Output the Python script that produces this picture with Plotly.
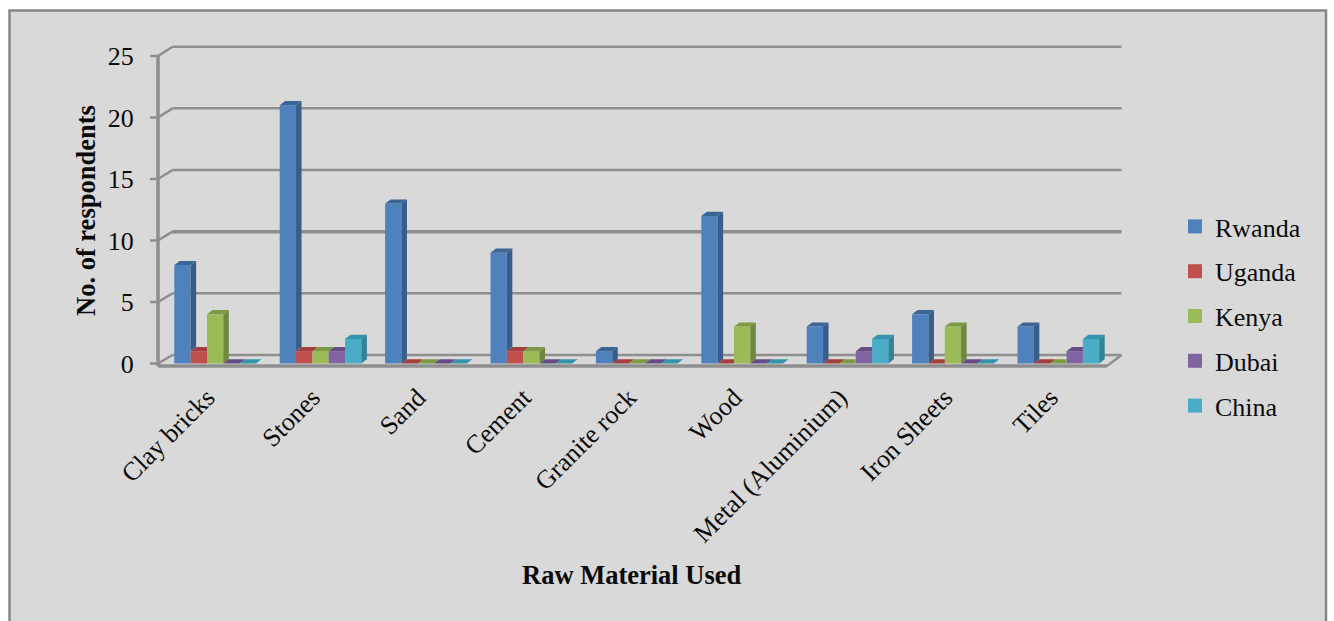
import plotly.graph_objects as go

# Survey data
materials = ["Clay bricks", "Stones", "Sand", "Cement", "Granite rock", "Wood",
             "Metal (Aluminium)", "Iron Sheets", "Tiles"]
rwanda = [8, 21, 13, 9, 1, 12, 3, 4, 3]
uganda = [1, 1, 0, 1, 0, 0, 0, 0, 0]
kenya = [4, 1, 0, 1, 0, 3, 0, 3, 0]
dubai = [0, 1, 0, 0, 0, 0, 1, 0, 1]
china = [0, 2, 0, 0, 0, 0, 2, 0, 2]
y_ticks = [0, 5, 10, 15, 20, 25]

series = [
    ("Rwanda", rwanda, "#4F81BD", "#385D8A", "#3A6594"),
    ("Uganda", uganda, "#C0504D", "#8E3A38", "#A33F3C"),
    ("Kenya", kenya, "#9BBB59", "#6F8740", "#7C9A42"),
    ("Dubai", dubai, "#8064A2", "#5C4776", "#644C85"),
    ("China", china, "#4BACC6", "#31839A", "#3592AC"),
]

# Page and plot geometry
W, H = 1334, 621
FONT = "Liberation Serif, Times New Roman, serif"
CAT_PX, VAL_PX = 105.4, 12.3        # pixels per category / per unit
ORIGIN_X, ORIGIN_Y = 215.15, 363.5  # pixel of category 0, value 0
DOM_L, DOM_R, DOM_T, DOM_B = 146, 1128, 42, 370

GROUP_W = 81.7 / CAT_PX
BAR_W = GROUP_W / len(series)
DEPTH_X, DEPTH_Y = 5.5 / CAT_PX, 4.2 / VAL_PX   # extrusion of each bar
WALL_X, WALL_Y = 14.5 / CAT_PX, 8.5 / VAL_PX    # depth of the chart box
WALL_SCALE = 1.0026
AXIS_X = (158 - ORIGIN_X) / CAT_PX
FLOOR_R = (1107 - ORIGIN_X) / CAT_PX
FLOOR_Y = (ORIGIN_Y - 366) / VAL_PX
TICK_END = (150 - ORIGIN_X) / CAT_PX
LINE = "#8E8E8E"

fig = go.Figure()

# Front faces
for k, (name, values, front, side, top) in enumerate(series):
    fig.add_trace(go.Bar(
        x=list(range(len(materials))), y=values, name=name,
        width=BAR_W, offset=-GROUP_W / 2 + k * BAR_W,
        marker=dict(color=front, line=dict(width=0)),
        legendgroup=name, showlegend=False,
    ))

# Side and top faces, drawn left to right so neighbours overlap correctly
for k, (name, values, front, side, top) in enumerate(series):
    next_values = series[k + 1][1] if k + 1 < len(series) else [0] * len(values)
    side_x, side_y, top_x, top_y = [], [], [], []
    for i, (v, vn) in enumerate(zip(values, next_values)):
        left = i - GROUP_W / 2 + k * BAR_W
        right = left + BAR_W
        if vn < v:
            side_x += [right, right, right + DEPTH_X, right + DEPTH_X, None]
            side_y += [vn, v, v + DEPTH_Y, vn + DEPTH_Y, None]
        if vn > v:
            top_x += [left, right, right, left + DEPTH_X, None]
            top_y += [v, v, v + DEPTH_Y, v + DEPTH_Y, None]
        else:
            top_x += [left, right, right + DEPTH_X, left + DEPTH_X, None]
            top_y += [v, v, v + DEPTH_Y, v + DEPTH_Y, None]
    for xs, ys, color in ((side_x, side_y, side), (top_x, top_y, top)):
        fig.add_trace(go.Scatter(
            x=xs, y=ys, mode="lines", fill="toself", fillcolor=color,
            line=dict(width=0), showlegend=False, hoverinfo="skip",
            legendgroup=name,
        ))

# Legend entries with larger square keys
for name, values, front, side, top in series:
    fig.add_trace(go.Scatter(
        x=[None], y=[None], mode="markers", name=name, legendgroup=name,
        marker=dict(symbol="square", size=14, color=front, line=dict(width=0)),
    ))

# Chart area background and frame, open at the bottom
shapes = [dict(type="rect", xref="paper", yref="paper", layer="below",
               x0=9.5 / W, x1=1326 / W, y0=-0.05, y1=1 - 10.5 / H,
               fillcolor="#D9D9D9", line=dict(color="#868686", width=2.5))]


def segment(x0, y0, x1, y1, width=2.5):
    shapes.append(dict(type="line", xref="x", yref="y", layer="below",
                       x0=x0, y0=y0, x1=x1, y1=y1,
                       line=dict(color=LINE, width=width)))


# Back wall gridlines with their slanted returns and front tick marks
for v in y_ticks:
    back = v * WALL_SCALE + WALL_Y
    width = 3.4 if v == 10 else 2.5
    segment(AXIS_X + WALL_X, back, FLOOR_R + WALL_X, back, width)
    segment(AXIS_X, v, AXIS_X + WALL_X, back)
    segment(TICK_END, v, AXIS_X, v)

# Value axis and floor outline
segment(AXIS_X, FLOOR_Y, AXIS_X, y_ticks[-1], 3.5)
segment(AXIS_X, FLOOR_Y, FLOOR_R, FLOOR_Y, 3.5)
segment(FLOOR_R, FLOOR_Y, FLOOR_R + WALL_X, WALL_Y, 2.5)

fig.update_layout(
    width=W, height=H, margin=dict(l=0, r=0, t=0, b=0, autoexpand=False),
    paper_bgcolor="white", plot_bgcolor="rgba(0,0,0,0)",
    font=dict(family=FONT, size=26, color="#0A0A0A"),
    barmode="overlay", shapes=shapes,
    xaxis=dict(
        domain=[DOM_L / W, DOM_R / W], automargin=False,
        range=[(DOM_L - ORIGIN_X) / CAT_PX, (DOM_R - ORIGIN_X) / CAT_PX],
        tickmode="array", tickvals=list(range(len(materials))), ticktext=materials,
        tickangle=-45, showgrid=False, zeroline=False, showline=False,
        ticks="outside", ticklen=1, tickcolor="rgba(0,0,0,0)",
        ticklabelshift=-8,
        tickfont=dict(family=FONT, size=26),
    ),
    yaxis=dict(
        domain=[1 - DOM_B / H, 1 - DOM_T / H], automargin=False,
        range=[(ORIGIN_Y - DOM_B) / VAL_PX, (ORIGIN_Y - DOM_T) / VAL_PX],
        tickmode="array", tickvals=y_ticks,
        showgrid=False, zeroline=False, showline=False,
        ticks="outside", ticklen=6, tickcolor="rgba(0,0,0,0)",
        tickfont=dict(family=FONT, size=26),
    ),
    legend=dict(
        x=1175 / W, y=1 - 203 / H, xanchor="left", yanchor="top",
        bgcolor="rgba(0,0,0,0)", tracegroupgap=8,
        font=dict(family=FONT, size=26), itemwidth=30,
    ),
    annotations=[
        dict(text="<b>Raw Material Used</b>", xref="paper", yref="paper",
             x=632 / W, y=1 - 575 / H, xanchor="center", yanchor="middle",
             showarrow=False, font=dict(family=FONT, size=26.5)),
        dict(text="<b>No. of respondents</b>", xref="paper", yref="paper",
             x=86 / W, y=1 - 211 / H, xanchor="center", yanchor="middle",
             textangle=-90, showarrow=False, font=dict(family=FONT, size=26.5)),
    ],
)

fig.write_html("out.html", config=dict(displayModeBar=False))
